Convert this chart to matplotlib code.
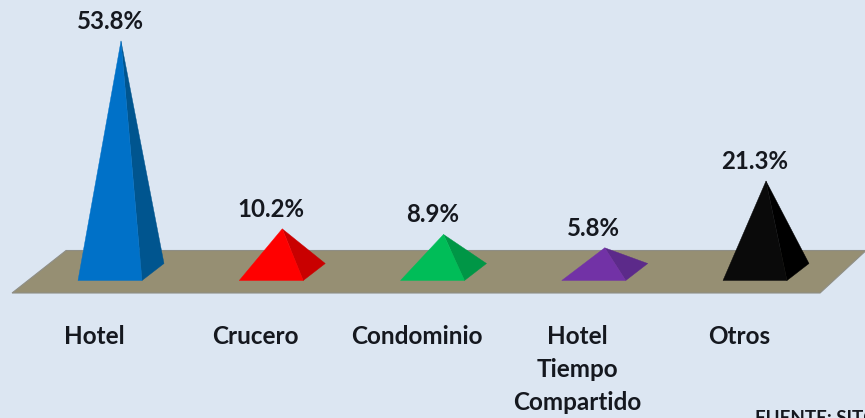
import matplotlib
matplotlib.use("Agg")
import matplotlib.pyplot as plt
from matplotlib.patches import Polygon

categories = ["Hotel", "Crucero", "Condominio", "Hotel\nTiempo\nCompartido", "Otros"]
values = [53.8, 10.2, 8.9, 5.8, 21.3]
value_labels = ["53.8%", "10.2%", "8.9%", "5.8%", "21.3%"]
front_colors = ["#0071C8", "#FF0000", "#00BD58", "#7232A6", "#0A0A0A"]
side_colors = ["#00558F", "#C90000", "#009646", "#5C2A8A", "#000000"]

BG = "#DCE6F2"
FLOOR = "#968F73"
INK = "#15181F"
FONT = "Lato"

W, H = 865, 418
fig = plt.figure(figsize=(W / 100, H / 100), dpi=100, facecolor=BG)
ax = fig.add_axes([0, 0, 1, 1])
ax.set_facecolor(BG)

# Category and value scales: one category = 161.25 px, one percent = 4.31 px.
ax.set_xlim(-121 / 161.25, (W - 121) / 161.25)
ax.set_ylim((272.8 - H) / 4.31, 272.8 / 4.31)
ax.axis("off")

px_x = 1 / 161.25
px_y = 1 / 4.31


def level(py):
    """Value-axis position of a pixel row, for the floor and the pyramid bases."""
    return (272.8 - py) * px_y


# Floor plane in an oblique view; its right corner runs off the canvas.
floor = Polygon(
    [(-0.75 + 12 * px_x, level(293)), (-0.75 + 820 * px_x, level(293)),
     (-0.75 + 866 * px_x, level(250.5)), (-0.75 + 66 * px_x, level(250.5))],
    closed=True, facecolor=FLOOR, edgecolor="#8E8E86", linewidth=0.8, zorder=1)
ax.add_patch(floor)

# Pyramids: front and right faces, apex height given by the value.
for i, (v, fc, sc) in enumerate(zip(values, front_colors, side_colors)):
    fl = (i - 43 * px_x, level(280.5))
    fr = (i + 21 * px_x, level(280.5))
    br = (i + 43 * px_x, level(263.5))
    apex = (i, v)
    ax.add_patch(Polygon([fr, br, apex], closed=True, facecolor=sc, edgecolor=sc,
                         linewidth=0.3, zorder=2))
    ax.add_patch(Polygon([fl, fr, apex], closed=True, facecolor=fc, edgecolor=fc,
                         linewidth=0.3, zorder=3))
    ax.annotate(value_labels[i], xy=apex, xytext=(-11 * 0.72, 19.5 * 0.72),
                textcoords="offset points", ha="center", va="center",
                fontsize=17.3, fontweight="bold", family=FONT, color=INK, zorder=4)

# Category names below the floor, with the first line on a common row.
for i, name in enumerate(categories):
    ax.annotate(name, xy=(i, level(293)), xytext=(-27 * 0.72, -32 * 0.72),
                textcoords="offset points", ha="center", va="top",
                fontsize=17.5, fontweight="bold", family=FONT, color=INK,
                linespacing=1.52, multialignment="center", zorder=4)

# Source note, cut off by the right and bottom edges of the canvas.
ax.text(-0.75 + 755 * px_x, level(410), "FUENTE: SITC", ha="left", va="top",
        fontsize=13.5, fontweight="bold", family=FONT, color=INK, clip_on=False)

fig.savefig("out.png", dpi=100, facecolor=BG)
